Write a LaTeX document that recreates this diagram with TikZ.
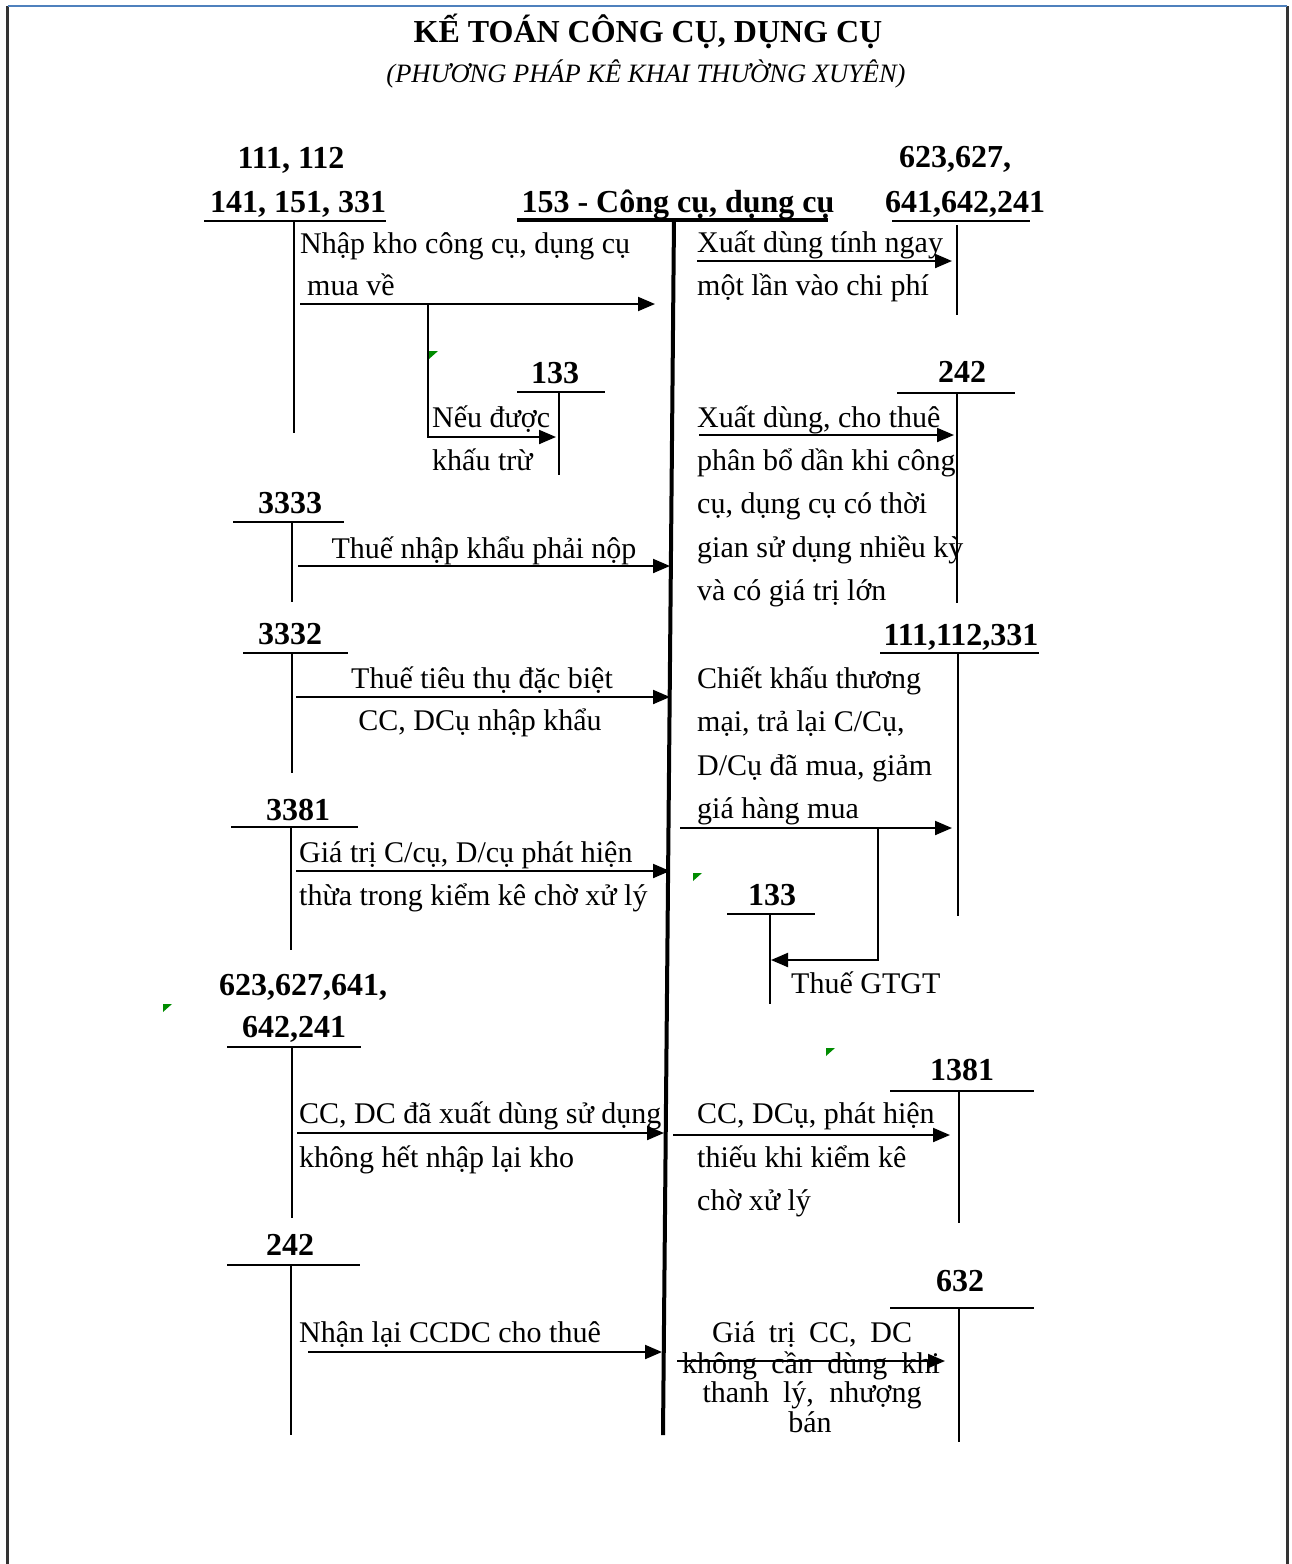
\documentclass[tikz,border=0pt]{standalone}
\usepackage{fontspec}
\setmainfont{Liberation Serif}
\usetikzlibrary{arrows.meta}
\begin{document}
\begin{tikzpicture}[x=1pt,y=-1pt,
  acct/.style={font=\fontsize{32}{38}\selectfont\bfseries, anchor=base, inner sep=0pt},
  txt/.style={font=\fontsize{30}{43.5}\selectfont, anchor=base west, inner sep=0pt},
  ctxt/.style={font=\fontsize{30}{43.5}\selectfont, anchor=base, inner sep=0pt},
  tline/.style={line width=2pt},
  arr/.style={line width=2pt, -{Triangle[length=17pt,width=14pt]}},
  mainline/.style={line width=4pt},
  greenmark/.style={fill=green!55!black, draw=none},
  frame/.style={line width=3pt, draw=black!80},
  topline/.style={line width=2.5pt, draw={rgb,255:red,79;green,129;blue,189}}]
\useasboundingbox (0,0) rectangle (1291,1564);

% page frame
\coordinate (fTL) at (7.5,6); \coordinate (fBL) at (7.5,1564);
\coordinate (fTR) at (1287,6); \coordinate (fBR) at (1287,1564);
\draw[frame] (fTL) -- (fBL);
\draw[frame] (fTR) -- (fBR);
\draw[topline] (fTL) -- (fTR);

% title
\node[font=\fontsize{32}{38}\selectfont\bfseries, anchor=base, inner sep=0pt] (title) at (648,42) {KẾ TOÁN CÔNG CỤ, DỤNG CỤ};
\node[font=\fontsize{26.5}{32}\selectfont\itshape, anchor=base, inner sep=0pt] (subtitle) at (646,82) {(PHƯƠNG PHÁP KÊ KHAI THƯỜNG XUYÊN)};

% central account 153
\node[acct] (c153) at (678,212) {153 - Công cụ, dụng cụ};
\coordinate (c153l) at (517,219.5); \coordinate (c153r) at (828,219.5);
\draw[mainline] (c153l) -- (c153r);
\coordinate (cTop) at (674,219); \coordinate (cBot) at (663,1435);
\draw[mainline] (cTop) -- (cBot);

% ===== LEFT SIDE =====
% 111,112 / 141,151,331
\node[acct] (a111a) at (291,168) {111, 112};
\node[acct] (a111b) at (298,212) {141, 151, 331};
\coordinate (a111l) at (204,221); \coordinate (a111r) at (386,221);
\coordinate (a111t) at (294,221); \coordinate (a111d) at (294,433);
\draw[tline] (a111l) -- (a111r);
\draw[tline] (a111t) -- (a111d);
\node[txt] (t1a) at (300,253) {Nhập kho công cụ, dụng cụ};
\node[txt] (t1b) at (307,295) {mua về};
\coordinate (r1s) at (300,304); \coordinate (r1e) at (655,304);
\draw[arr] (r1s) -- (r1e);
% branch to 133
\coordinate (b1a) at (428,304); \coordinate (b1b) at (428,437); \coordinate (b1c) at (556,437);
\draw[arr] (b1a) -- (b1b) -- (b1c);
\node[acct] (a133a) at (555,383) {133};
\coordinate (a133al) at (517,392); \coordinate (a133ar) at (605,392);
\coordinate (a133at) at (559,392); \coordinate (a133ad) at (559,475);
\draw[tline] (a133al) -- (a133ar);
\draw[tline] (a133at) -- (a133ad);
\node[txt] (t133a) at (432,427) {Nếu được};
\node[txt] (t133b) at (432,470) {khấu trừ};
\fill[greenmark] (429,351) -- (438,351) -- (429,359) -- cycle;

% 3333
\node[acct] (a3333) at (290,513) {3333};
\coordinate (a3333l) at (233,522); \coordinate (a3333r) at (344,522);
\coordinate (a3333t) at (292,522); \coordinate (a3333d) at (292,602);
\draw[tline] (a3333l) -- (a3333r);
\draw[tline] (a3333t) -- (a3333d);
\node[ctxt] (t3333) at (484,558) {Thuế nhập khẩu phải nộp};
\coordinate (r2s) at (298,566); \coordinate (r2e) at (670,566);
\draw[arr] (r2s) -- (r2e);

% 3332
\node[acct] (a3332) at (290,644) {3332};
\coordinate (a3332l) at (243,653); \coordinate (a3332r) at (348,653);
\coordinate (a3332t) at (292,653); \coordinate (a3332d) at (292,773);
\draw[tline] (a3332l) -- (a3332r);
\draw[tline] (a3332t) -- (a3332d);
\node[ctxt] (t3332a) at (482,688) {Thuế tiêu thụ đặc biệt};
\node[ctxt] (t3332b) at (480,730) {CC, DCụ nhập khẩu};
\coordinate (r3s) at (296,697); \coordinate (r3e) at (670,697);
\draw[arr] (r3s) -- (r3e);

% 3381
\node[acct] (a3381) at (298,820) {3381};
\coordinate (a3381l) at (231,827); \coordinate (a3381r) at (358,827);
\coordinate (a3381t) at (291,827); \coordinate (a3381d) at (291,950);
\draw[tline] (a3381l) -- (a3381r);
\draw[tline] (a3381t) -- (a3381d);
\node[txt] (t3381a) at (299,862) {Giá trị C/cụ, D/cụ phát hiện};
\node[txt] (t3381b) at (299,905) {thừa trong kiểm kê chờ xử lý};
\coordinate (r4s) at (296,871); \coordinate (r4e) at (670,871);
\draw[arr] (r4s) -- (r4e);

% 623,627,641, 642,241
\node[acct] (a623a) at (303,995) {623,627,641,};
\node[acct] (a623b) at (294,1037) {642,241};
\coordinate (a623l) at (227,1047); \coordinate (a623r) at (361,1047);
\coordinate (a623t) at (292,1047); \coordinate (a623d) at (292,1218);
\draw[tline] (a623l) -- (a623r);
\draw[tline] (a623t) -- (a623d);
\fill[greenmark] (163,1004) -- (172,1004) -- (163,1012) -- cycle;
\node[txt] (t623a) at (299,1123) {CC, DC đã xuất dùng sử dụng};
\node[txt] (t623b) at (299,1167) {không hết nhập lại kho};
\coordinate (r5s) at (297,1133); \coordinate (r5e) at (664,1133);
\draw[arr] (r5s) -- (r5e);

% 242 left
\node[acct] (a242l) at (290,1255) {242};
\coordinate (a242ll) at (227,1265); \coordinate (a242lr) at (360,1265);
\coordinate (a242lt) at (291,1265); \coordinate (a242ld) at (291,1435);
\draw[tline] (a242ll) -- (a242lr);
\draw[tline] (a242lt) -- (a242ld);
\node[txt] (t242l) at (299,1342) {Nhận lại CCDC cho thuê};
\coordinate (r6s) at (308,1352); \coordinate (r6e) at (662,1352);
\draw[arr] (r6s) -- (r6e);

% ===== RIGHT SIDE =====
% 623,627, / 641,642,241
\node[acct] (b623a) at (955,167) {623,627,};
\node[acct] (b623b) at (965,212) {641,642,241};
\coordinate (b623l) at (892,221); \coordinate (b623r) at (1030,221);
\coordinate (b623t) at (957,225); \coordinate (b623d) at (957,315);
\draw[tline] (b623l) -- (b623r);
\draw[tline] (b623t) -- (b623d);
\node[txt] (u1a) at (697,252) {Xuất dùng tính ngay};
\node[txt] (u1b) at (697,295) {một lần vào chi phí};
\coordinate (s1s) at (697,261); \coordinate (s1e) at (952,261);
\draw[arr] (s1s) -- (s1e);

% 242 right
\node[acct] (b242) at (962,382) {242};
\coordinate (b242l) at (897,393); \coordinate (b242r) at (1015,393);
\coordinate (b242t) at (957,393); \coordinate (b242d) at (957,603);
\draw[tline] (b242l) -- (b242r);
\draw[tline] (b242t) -- (b242d);
\node[txt] (u2a) at (697,427) {Xuất dùng, cho thuê};
\node[txt] (u2b) at (697,470) {phân bổ dần khi công};
\node[txt] (u2c) at (697,513) {cụ, dụng cụ có thời};
\node[txt] (u2d) at (697,557) {gian sử dụng nhiều kỳ};
\node[txt] (u2e) at (697,600) {và có giá trị lớn};
\coordinate (s2s) at (699,435); \coordinate (s2e) at (954,435);
\draw[arr] (s2s) -- (s2e);

% 111,112,331
\node[acct] (b111) at (961,645) {111,112,331};
\coordinate (b111l) at (880,653); \coordinate (b111r) at (1039,653);
\coordinate (b111t) at (958,653); \coordinate (b111d) at (958,916);
\draw[tline] (b111l) -- (b111r);
\draw[tline] (b111t) -- (b111d);
\node[txt] (u3a) at (697,688) {Chiết khấu thương};
\node[txt] (u3b) at (697,731) {mại, trả lại C/Cụ,};
\node[txt] (u3c) at (697,775) {D/Cụ đã mua, giảm};
\node[txt] (u3d) at (697,818) {giá hàng mua};
\coordinate (s3s) at (680,828); \coordinate (s3e) at (952,828);
\draw[arr] (s3s) -- (s3e);
% branch to 133
\coordinate (c1a) at (878,828); \coordinate (c1b) at (878,960); \coordinate (c1c) at (771,960);
\draw[arr] (c1a) -- (c1b) -- (c1c);
\node[acct] (b133) at (772,905) {133};
\coordinate (b133l) at (727,914); \coordinate (b133r) at (815,914);
\coordinate (b133t) at (770,914); \coordinate (b133d) at (770,1004);
\draw[tline] (b133l) -- (b133r);
\draw[tline] (b133t) -- (b133d);
\node[txt] (u133) at (791,993) {Thuế GTGT};
\fill[greenmark] (693,873) -- (702,873) -- (693,881) -- cycle;

% 1381
\fill[greenmark] (826,1048) -- (835,1048) -- (826,1056) -- cycle;
\node[acct] (b1381) at (962,1080) {1381};
\coordinate (b1381l) at (890,1091); \coordinate (b1381r) at (1034,1091);
\coordinate (b1381t) at (959,1091); \coordinate (b1381d) at (959,1223);
\draw[tline] (b1381l) -- (b1381r);
\draw[tline] (b1381t) -- (b1381d);
\node[txt] (u4a) at (697,1123) {CC, DCụ, phát hiện};
\node[txt] (u4b) at (697,1167) {thiếu khi kiểm kê};
\node[txt] (u4c) at (697,1210) {chờ xử lý};
\coordinate (s4s) at (673,1135); \coordinate (s4e) at (950,1135);
\draw[arr] (s4s) -- (s4e);

% 632
\node[acct] (b632) at (960,1291) {632};
\coordinate (b632l) at (890,1308); \coordinate (b632r) at (1034,1308);
\coordinate (b632t) at (959,1308); \coordinate (b632d) at (959,1442);
\draw[tline] (b632l) -- (b632r);
\draw[tline] (b632t) -- (b632d);
\node[ctxt] (u5a) at (812,1342) {\makebox[200pt][s]{Giá trị CC, DC}};
\node[ctxt] (u5b) at (811,1373) {\makebox[258pt][s]{không cần dùng khi}};
\node[ctxt] (u5c) at (812,1402) {\makebox[219pt][s]{thanh lý, nhượng}};
\node[ctxt] (u5d) at (810,1432) {bán};
\coordinate (s5s) at (677,1361); \coordinate (s5e) at (945,1361);
\draw[arr] (s5s) -- (s5e);

\end{tikzpicture}
\end{document}
